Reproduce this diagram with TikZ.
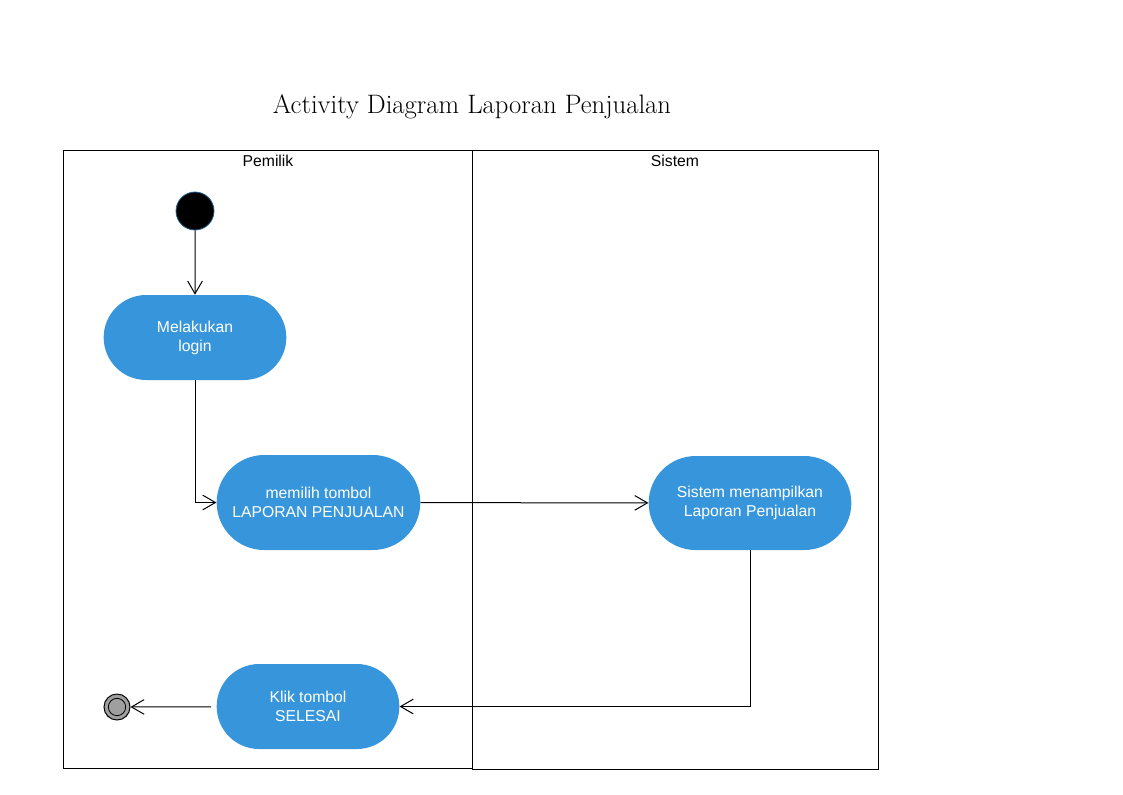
\documentclass[tikz,border=0pt]{standalone}
\usepackage{fontspec}
\setsansfont{Liberation Sans}
\usetikzlibrary{positioning, shapes.misc, arrows.meta}
\definecolor{actblue}{HTML}{3796DB}
\definecolor{startrim}{HTML}{1F5F8B}
\tikzset{
	act/.style={rounded rectangle, fill=actblue, text=white, align=center, inner sep=2pt, font=\sffamily\fontsize{11.8}{14.3}\selectfont},
	lane/.style={draw, rectangle, line width=0.75pt, inner sep=0pt},
	lanelabel/.style={anchor=north, font=\sffamily\fontsize{11.8}{14}\selectfont, inner sep=0pt},
	% start and end of the activity
	startstate/.style={circle, draw=startrim, fill=black, line width=0.6pt, minimum size=28.5pt, inner sep=0pt},
	endstate/.style={circle, draw=black, fill=gray!75, line width=0.75pt, minimum size=19.5pt, inner sep=0pt},
	endcore/.style={circle, draw=black, fill=gray!75, line width=0.6pt, minimum size=13pt, inner sep=0pt},
}

\begin{document}
\begin{tikzpicture}[x=0.75pt, y=-0.75pt]
		\useasboundingbox (0,0) rectangle (1123,794);
		
		\node (title) at (472,107) {\fontsize{20}{24}\selectfont Activity Diagram Laporan Penjualan};
		
		\node (pemilik) [lane, minimum width=306.75pt, minimum height=463.5pt] at (267.5,459) {};
		\node (sistem) [lane, minimum width=304.5pt, minimum height=464.25pt] at (675,459.5) {};
		\node (pemiliklbl) [lanelabel] at (268,155) {Pemilik};
		\node (sistemlbl) [lanelabel] at (675,155) {Sistem};
		
		\node (start) [startstate] at (195,211) {};
		\node (login) [act, minimum width=141pt, minimum height=63.75pt] at (195,337.5) {Melakukan\\login};
		\node (pilih) [act, minimum width=156.75pt, minimum height=71.25pt] at (318.5,502.5) {memilih tombol\\LAPORAN PENJUALAN};
		\node (tampil) [act, minimum width=156pt, minimum height=70.5pt] at (750,503) {Sistem menampilkan\\Laporan Penjualan};
		\node (klik) [act, minimum width=141pt, minimum height=63.75pt] at (308,706.5) {Klik tombol\\SELESAI};
		\node (end) [endstate] at (117,707) {};
		\node (endin) [endcore] at (end) {};
		
		\begin{scope}[black, line width=0.75pt, ->, >={Straight Barb[length=9.5pt, width=11pt]}]
			
			\draw (start) -- (login);
			\draw (login) |- (pilih);
			\draw (pilih) -- (tampil);
			\draw (tampil) |- (klik);
			\draw[shorten <=4pt] (klik) -- (end);
			
		\end{scope}
		
\end{tikzpicture}
\end{document}
